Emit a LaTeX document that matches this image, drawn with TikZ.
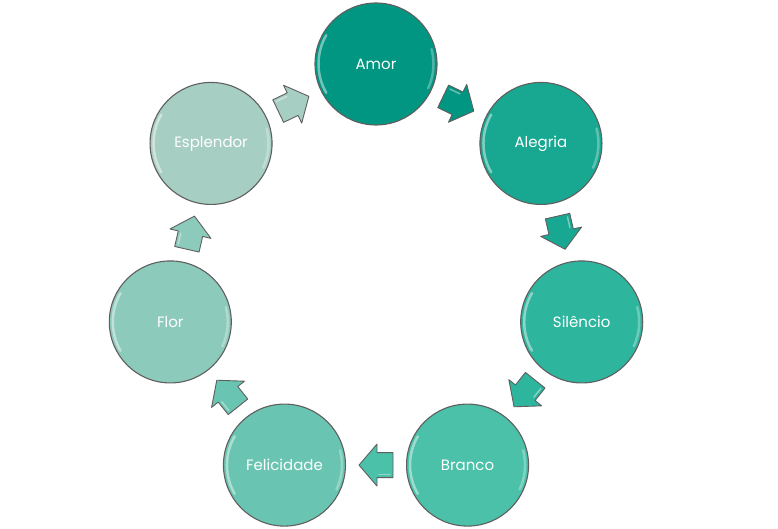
\documentclass[tikz,border=0pt]{standalone}
\usepackage{fontspec}
\setmainfont{Poppins}
\usetikzlibrary{calc}
\definecolor{c0}{RGB}{0,150,130}
\definecolor{c1}{RGB}{24,168,145}
\definecolor{c2}{RGB}{46,181,158}
\definecolor{c3}{RGB}{74,193,168}
\definecolor{c4}{RGB}{105,197,177}
\definecolor{c5}{RGB}{140,202,187}
\definecolor{c6}{RGB}{167,206,194}
\definecolor{rim}{RGB}{95,95,95}
\begin{document}
\begin{tikzpicture}[x=1pt,y=1pt,
  bubble/.style={circle, minimum size=122pt, inner sep=0pt, draw=rim, line width=1.1pt,
    text=white, font=\fontsize{15}{18}\selectfont},
  blockarrow/.style={draw=rim, line width=0.9pt, line join=round},
  gloss/.style={white, opacity=0.45, line width=2.5pt, line cap=round}]
\useasboundingbox (0,0) rectangle (778,529);
\foreach \i/\t in {0/Amor,1/Alegria,2/Sil\^encio,3/Branco,4/Felicidade,5/Flor,6/Esplendor}{
  \node[bubble, fill=c\i] (n\i) at ({376+211*cos(90-\i*360/7)},{254+211*sin(90-\i*360/7)}) {\t};
  \draw[gloss] ($(n\i)+(150:57.5)$) arc (150:210:57.5);
  \draw[gloss, opacity=0.3] ($(n\i)+(-25:57.5)$) arc (-25:15:57.5);
}
\foreach \i in {0,...,6}{
  \pgfmathtruncatemacro\j{mod(\i+1,7)}
  \pgfmathsetmacro\ang{-(\i+0.5)*360/7}
  \coordinate (m\i) at ($(n\i)!0.5!(n\j)$);
  \begin{scope}[shift={(m\i)}, rotate=\ang]
    \draw[blockarrow, fill=c\i] (-17,-12.5) -- (-1,-12.5) -- (-1,-21) -- (17,0) -- (-1,21) -- (-1,12.5) -- (-17,12.5) -- cycle;
    \draw[white, opacity=0.4, line width=1.5pt, line cap=round] (-14,9.5) -- (-3,9.5);
  \end{scope}
}
\end{tikzpicture}
\end{document}
